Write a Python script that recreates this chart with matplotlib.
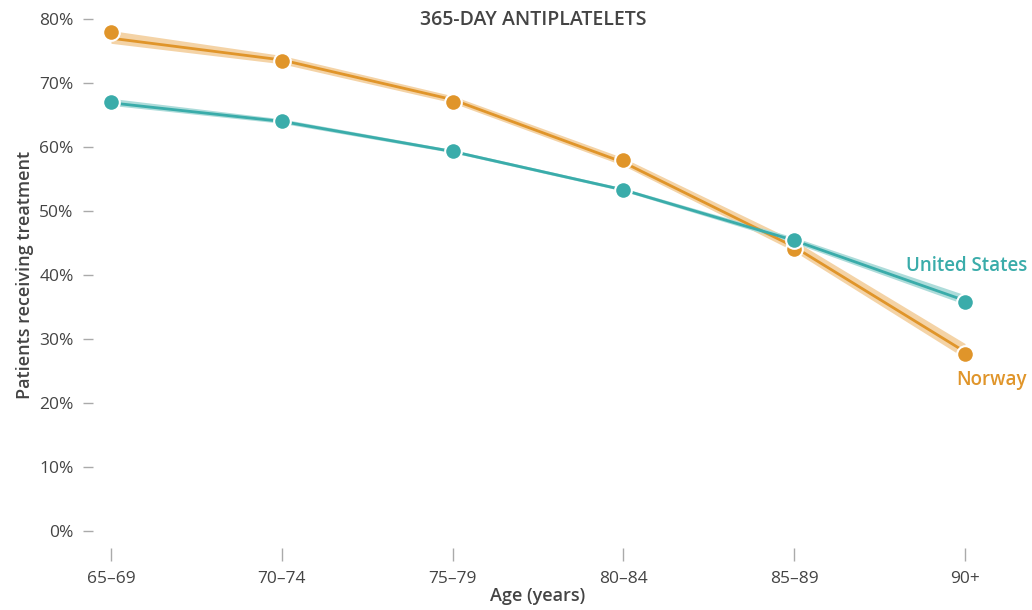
import numpy as np
import matplotlib
matplotlib.use("Agg")
import matplotlib.pyplot as plt

# data
age_groups = ["65–69", "70–74", "75–79", "80–84", "85–89", "90+"]
norway_obs = [78.0, 73.4, 67.1, 57.9, 44.0, 27.6]
us_obs = [67.0, 64.0, 59.3, 53.3, 45.4, 35.8]

# fitted curve and its band
norway_fit = [77.0, 73.6, 67.4, 57.6, 44.4, 28.0]
norway_lo = [76.2, 73.0, 66.9, 57.1, 43.7, 27.0]
norway_hi = [78.2, 74.3, 68.0, 58.3, 45.4, 29.3]
us_fit = [66.9, 64.0, 59.3, 53.3, 45.4, 36.0]
us_lo = [66.5, 63.7, 59.1, 53.1, 45.0, 35.4]
us_hi = [67.6, 64.4, 59.6, 53.6, 45.9, 36.9]

y_ticks = [0, 10, 20, 30, 40, 50, 60, 70, 80]

orange = "#E0952A"
orange_light = "#F4D3A6"
teal = "#3AACAA"
teal_light = "#ADDCDA"
text_col = "#444444"
tick_col = "#AAAAAA"

plt.rcParams['font.family'] = ['Open Sans', 'DejaVu Sans']

fig = plt.figure(figsize=(10.32, 6.10), dpi=100)
W, H = 1032, 610
ax = fig.add_axes([111 / W, 1 - 531 / H, (965 - 111) / W, (531 - 19) / H])

x = np.arange(len(age_groups))

# bands
ax.fill_between(x, norway_lo, norway_hi, color=orange_light, lw=0, zorder=1)
ax.fill_between(x, us_lo, us_hi, color=teal_light, lw=0, zorder=1)

# fitted lines
ax.plot(x, norway_fit, color=orange, lw=2.0, solid_capstyle='round', zorder=2)
ax.plot(x, us_fit, color=teal, lw=2.0, solid_capstyle='round', zorder=2)

# observed points
ax.plot(x, norway_obs, 'o', ms=12, color=orange, mec='white', mew=1.5, zorder=3, clip_on=False)
ax.plot(x, us_obs, 'o', ms=12, color=teal, mec='white', mew=1.5, zorder=4, clip_on=False)

ax.set_xlim(0, 5)
ax.set_ylim(0, 80)
ax.set_xticks(x)
ax.set_xticklabels(age_groups)
ax.set_yticks(y_ticks)
ax.set_yticklabels(["{}%".format(v) for v in y_ticks])

for side in ['top', 'right', 'left', 'bottom']:
  ax.spines[side].set_visible(False)
ax.spines['left'].set_position(('outward', 13))
ax.spines['bottom'].set_position(('outward', 12))

ax.tick_params(axis='y', length=7, width=1, color=tick_col, pad=7, labelsize=12.5, labelcolor=text_col)
ax.tick_params(axis='x', length=9, width=1, color=tick_col, pad=8, labelsize=12.5, labelcolor=text_col)

ax.set_ylabel("Patients receiving treatment", fontsize=13, fontweight='semibold', color=text_col, labelpad=4)
ax.set_xlabel("Age (years)", fontsize=13, fontweight='semibold', color=text_col, labelpad=0)

fig.text(533 / W, 1 - 20 / H, "365-DAY ANTIPLATELETS", ha='center', va='center',
         fontsize=14, fontweight='semibold', color=text_col)

fig.text(1027 / W, 1 - 266 / H, "United States", ha='right', va='center',
         fontsize=13.5, fontweight='semibold', color=teal)
fig.text(1027 / W, 1 - 380 / H, "Norway", ha='right', va='center',
         fontsize=13.5, fontweight='semibold', color=orange)

fig.savefig("out.png", dpi=100)
